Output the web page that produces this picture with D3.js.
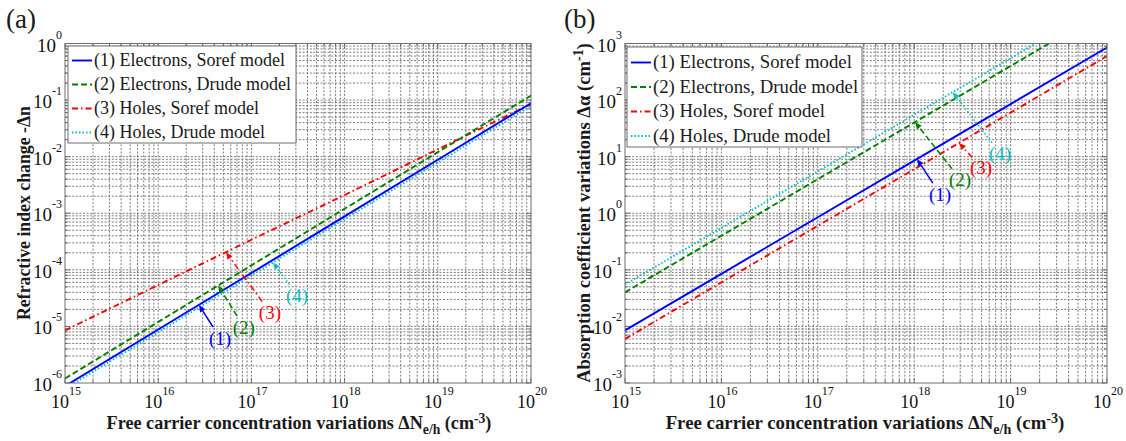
<!DOCTYPE html>
<html><head><meta charset="utf-8">
<script src="https://cdn.jsdelivr.net/npm/d3@7"></script>
<style>body{margin:0;background:#fff}</style>
</head><body>
<svg id="c" width="1126" height="441" xmlns="http://www.w3.org/2000/svg"></svg>
<script>
// ---------- data ----------
const carrierConc = [1e15, 1e16, 1e17, 1e18, 1e19, 1e20];
const dnElecSoref = [8.8e-7, 8.8e-6, 8.8e-5, 8.8e-4, 8.8e-3, 8.8e-2];
const dnElecDrude = [1.2e-6, 1.2e-5, 1.2e-4, 1.2e-3, 1.2e-2, 1.2e-1];
const dnHoleSoref = [8.5e-6, 5.4e-5, 3.4e-4, 2.1e-3, 1.35e-2, 8.5e-2];
const dnHoleDrude = [7.9e-7, 7.9e-6, 7.9e-5, 7.9e-4, 7.9e-3, 7.9e-2];
const daElecSoref = [8.5e-3, 8.5e-2, 0.85, 8.5, 85, 850];
const daElecDrude = [0.04, 0.4, 4, 40, 400, 4000];
const daHoleSoref = [6e-3, 6e-2, 0.6, 6, 60, 600];
const daHoleDrude = [0.055, 0.55, 5.5, 55, 550, 5500];
const legendLabels = ["(1) Electrons, Soref model", "(2) Electrons, Drude model", "(3) Holes, Soref model", "(4) Holes, Drude model"];
const xTickExp = [15, 16, 17, 18, 19, 20];
const yTickExpA = [-6, -5, -4, -3, -2, -1, 0];
const yTickExpB = [-3, -2, -1, 0, 1, 2, 3];
const annotA = [
  {t: "(1)", s: 0, tx: 2.74e16, ty: 2.4e-5, lx: 4.6e16, ly: 6.24e-6},
  {t: "(2)", s: 1, tx: 4.39e16, ty: 5.3e-5, lx: 8.3e16, ly: 9.8e-6},
  {t: "(3)", s: 2, tx: 5.33e16, ty: 2.04e-4, lx: 1.58e17, ly: 1.8e-5},
  {t: "(4)", s: 3, tx: 1.71e17, ty: 1.35e-4, lx: 3.09e17, ly: 3.59e-5}
];
const annotB = [
  {t: "(1)", s: 0, tx: 1.07e18, ty: 9.1, lx: 1.85e18, ly: 2.19},
  {t: "(2)", s: 1, tx: 1.02e18, ty: 40.8, lx: 2.99e18, ly: 4.03},
  {t: "(3)", s: 2, tx: 2.92e18, ty: 17.5, lx: 4.93e18, ly: 6.56},
  {t: "(4)", s: 3, tx: 2.51e18, ty: 138, lx: 7.76e18, ly: 11.6}
];

// ---------- styles ----------
const colors = ["#0000ff", "#008000", "#ff0000", "#00bfbf"];
const dashes = [null, "6,3", "6,3,1.5,3", "1.5,2"];
const FONT = "'Liberation Serif', 'DejaVu Serif', serif";
const svg = d3.select("#c");

function fitWidth(sel, target) {
  const n = sel.node();
  const w = n.getComputedTextLength();
  const fs = parseFloat(sel.attr("font-size"));
  const k = target / w;
  sel.attr("font-size", fs * k);
  sel.selectAll("tspan").each(function() {
    const t = d3.select(this);
    if (t.attr("font-size")) t.attr("font-size", parseFloat(t.attr("font-size")) * k);
  });
}

function gridVals(domain) {
  const out = [];
  const lo = Math.round(Math.log10(domain[0])), hi = Math.round(Math.log10(domain[1]));
  for (let e = lo; e <= hi; e++) {
    for (let m = 1; m <= 9; m++) {
      if (e === hi && m > 1) break;
      out.push({v: m * Math.pow(10, e), major: m === 1});
    }
  }
  return out;
}

function drawPanel(p) {
  const x = d3.scaleLog().domain([1e15, 1e20]).range([p.x0, p.x1]);
  const y = d3.scaleLog().domain(p.yDomain).range([p.y1, p.y0]);
  const g = svg.append("g");
  const clipId = "clip" + p.id;
  svg.append("clipPath").attr("id", clipId).append("rect")
    .attr("x", p.x0).attr("y", p.y0).attr("width", p.x1 - p.x0).attr("height", p.y1 - p.y0);

  const xg = gridVals(x.domain()), yg = gridVals(p.yDomain);
  // grid
  const gridStroke = "#7a7a7a";
  g.append("g").selectAll("line").data(xg.filter(d => d.v > 1e15 && d.v < 1e20)).join("line")
    .attr("x1", d => x(d.v)).attr("x2", d => x(d.v)).attr("y1", p.y0).attr("y2", p.y1)
    .attr("stroke", gridStroke).attr("stroke-width", 1).attr("stroke-dasharray", "2,1.6");
  g.append("g").selectAll("line").data(yg.filter(d => d.v > p.yDomain[0] && d.v < p.yDomain[1])).join("line")
    .attr("y1", d => y(d.v)).attr("y2", d => y(d.v)).attr("x1", p.x0).attr("x2", p.x1)
    .attr("stroke", gridStroke).attr("stroke-width", 1).attr("stroke-dasharray", "2,1.6");
  // ticks (inward, all sides)
  const tk = g.append("g").attr("stroke", "#555").attr("stroke-width", 0.8);
  xg.forEach(d => {
    const L = d.major ? 5 : 3;
    tk.append("line").attr("x1", x(d.v)).attr("x2", x(d.v)).attr("y1", p.y1).attr("y2", p.y1 - L);
    tk.append("line").attr("x1", x(d.v)).attr("x2", x(d.v)).attr("y1", p.y0).attr("y2", p.y0 + L);
  });
  yg.forEach(d => {
    const L = d.major ? 5 : 3;
    tk.append("line").attr("y1", y(d.v)).attr("y2", y(d.v)).attr("x1", p.x0).attr("x2", p.x0 + L);
    tk.append("line").attr("y1", y(d.v)).attr("y2", y(d.v)).attr("x1", p.x1).attr("x2", p.x1 - L);
  });

  // series
  const line = d3.line().x((d, i) => x(carrierConc[i])).y(d => y(d));
  const sg = g.append("g").attr("clip-path", `url(#${clipId})`);
  [3, 2, 1, 0].forEach(i => {
    sg.append("path").attr("d", line(p.series[i])).attr("fill", "none")
      .attr("stroke", colors[i]).attr("stroke-width", 1.9)
      .attr("stroke-dasharray", dashes[i]);
  });

  // frame
  g.append("rect").attr("x", p.x0).attr("y", p.y0).attr("width", p.x1 - p.x0).attr("height", p.y1 - p.y0)
    .attr("fill", "none").attr("stroke", "#6f6f6f").attr("stroke-width", 1);

  // tick labels
  xTickExp.forEach(e => {
    const t = g.append("text").attr("x", x(Math.pow(10, e)) + 1).attr("y", p.y1 + 25)
      .attr("text-anchor", "middle").attr("font-family", FONT).attr("font-size", 18).attr("fill", "#111");
    t.append("tspan").text("10");
    t.append("tspan").attr("dy", -13).attr("font-size", 12).text(String(e));
  });
  p.yTicks.forEach(e => {
    const t = g.append("text").attr("x", p.x0 - 3).attr("y", y(Math.pow(10, e)) + 8)
      .attr("text-anchor", "end").attr("font-family", FONT).attr("font-size", 19).attr("fill", "#111");
    t.append("tspan").text("10");
    t.append("tspan").attr("dy", -13).attr("font-size", 12).text(String(e));
  });

  // annotations
  p.annot.forEach(a => {
    const tx = x(a.tx), ty = y(a.ty), lx = x(a.lx), ly = y(a.ly);
    const dx = tx - lx, dy = ty - ly, len = Math.hypot(dx, dy);
    const ux = dx / len, uy = dy / len;
    const sx = lx + ux * 13, sy = ly + uy * 13;
    const ah = 7, aw = 3;
    const bx = tx - ux * ah, by = ty - uy * ah;
    g.append("line").attr("x1", sx).attr("y1", sy).attr("x2", bx).attr("y2", by)
      .attr("stroke", colors[a.s]).attr("stroke-width", 1.5).attr("stroke-dasharray", dashes[a.s]);
    g.append("path").attr("d", `M${tx},${ty}L${bx - uy * aw},${by + ux * aw}L${bx + uy * aw},${by - ux * aw}Z`)
      .attr("fill", colors[a.s]);
    g.append("text").attr("x", lx).attr("y", ly).attr("dy", "0.35em").attr("text-anchor", "middle")
      .attr("font-family", FONT).attr("font-size", 19).attr("fill", colors[a.s]).text(a.t);
  });

  // legend
  const L = p.legend;
  g.append("rect").attr("x", L.x).attr("y", L.y).attr("width", L.w).attr("height", L.h)
    .attr("fill", "#fff").attr("stroke", "#6f6f6f").attr("stroke-width", 1);
  legendLabels.forEach((lab, i) => {
    const yy = L.y + L.row0 + i * L.dy;
    g.append("line").attr("x1", L.x + 4).attr("x2", L.x + 24).attr("y1", yy).attr("y2", yy)
      .attr("stroke", colors[i]).attr("stroke-width", 1.9).attr("stroke-dasharray", dashes[i]);
    const t = g.append("text").attr("x", L.x + 26).attr("y", yy + 5.5).attr("font-family", FONT)
      .attr("font-size", 16).attr("fill", "#1a1a1a").text(lab);
    if (i === 0) { fitWidth(t, L.tw); L.fs = t.attr("font-size"); }
    else t.attr("font-size", L.fs);
  });

  // axis titles
  const xt = svg.append("text").attr("x", p.xt.cx).attr("y", p.xt.y).attr("text-anchor", "middle")
    .attr("font-family", FONT).attr("font-size", 16).attr("font-weight", "bold").attr("fill", "#1a1a1a");
  xt.append("tspan").text("Free carrier concentration variations \u0394N");
  xt.append("tspan").attr("dy", 5).attr("font-size", 12).text("e/h");
  xt.append("tspan").attr("dy", -5).text(" (cm");
  xt.append("tspan").attr("dy", -6).attr("font-size", 12).text("-3");
  xt.append("tspan").attr("dy", 6).text(")");
  fitWidth(xt, p.xt.w);

  const yt = svg.append("text").attr("transform", `translate(${p.yt.x},${p.yt.cy}) rotate(-90)`)
    .attr("text-anchor", "middle").attr("font-family", FONT).attr("font-size", 16)
    .attr("font-weight", "bold").attr("fill", "#1a1a1a");
  p.yt.parts.forEach(pt => {
    const ts = yt.append("tspan").text(pt.t);
    if (pt.sup) ts.attr("dy", -7).attr("font-size", 12);
    if (pt.back) ts.attr("dy", 7);
  });
  fitWidth(yt, p.yt.w);

  svg.append("text").attr("x", p.tag.x).attr("y", 28).attr("font-family", FONT).attr("font-size", 27)
    .attr("fill", "#1a1a1a").text(p.tag.t);
}

drawPanel({
  id: "a", x0: 65, x1: 531, y0: 43.5, y1: 383, yDomain: [1e-6, 1],
  series: [dnElecSoref, dnElecDrude, dnHoleSoref, dnHoleDrude],
  yTicks: yTickExpA, annot: annotA,
  legend: {x: 68, y: 46, w: 228, h: 97, row0: 14.5, dy: 24, tw: 191},
  xt: {cx: 299, y: 429, w: 385},
  yt: {x: 30, cy: 213, w: 214, parts: [{t: "Refractive index change -\u0394n"}]},
  tag: {x: 6, t: "(a)"}
});
drawPanel({
  id: "b", x0: 625, x1: 1107, y0: 43.5, y1: 383, yDomain: [1e-3, 1e3],
  series: [daElecSoref, daElecDrude, daHoleSoref, daHoleDrude],
  yTicks: yTickExpB, annot: annotB,
  legend: {x: 627, y: 47, w: 235, h: 100, row0: 15.5, dy: 24.5, tw: 199},
  xt: {cx: 865, y: 429, w: 399},
  yt: {x: 590, cy: 213, w: 340, parts: [{t: "Absorption coefficient variations \u0394\u03b1 (cm"}, {t: "-1", sup: true}, {t: ")", back: true}]},
  tag: {x: 564, t: "(b)"}
});
</script>
</body></html>
